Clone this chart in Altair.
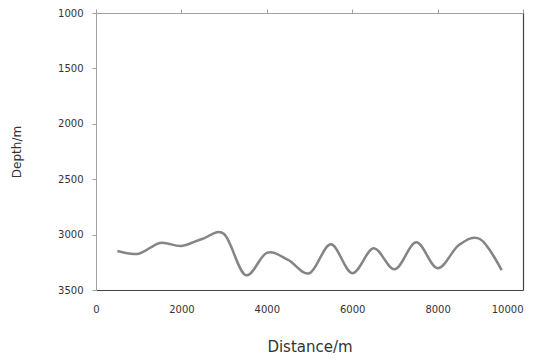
import altair as alt
import pandas as pd

distance = [500, 1000, 1500, 2000, 2500, 3000, 3500, 4000, 4500, 5000,
            5500, 6000, 6500, 7000, 7500, 8000, 8500, 9000, 9500]
depth = [3148, 3172, 3075, 3103, 3037, 2995, 3365, 3165, 3229, 3349,
         3088, 3349, 3124, 3313, 3070, 3304, 3094, 3042, 3320]

df = pd.DataFrame({"Distance": distance, "Depth": depth})

FONT = "DejaVu Sans"
xscale = alt.Scale(domain=[0, 10000], nice=False, zero=False)
yscale = alt.Scale(domain=[1000, 3500], reverse=True, nice=False, zero=False)
xvals = [0, 2000, 4000, 6000, 8000, 10000]
yvals = [1000, 1500, 2000, 2500, 3000, 3500]

line = alt.Chart(df).mark_line(
    interpolate="cardinal", color="#858585", strokeWidth=2.5
).encode(
    x=alt.X("Distance:Q", scale=xscale,
            axis=alt.Axis(title="Distance/m", orient="bottom", values=xvals, format="d",
                          ticks=False, labelPadding=14, titlePadding=25, labelFlush=False,
                          labelAlign={"expr": "datum.value == 10000 ? 'right' : 'center'"},
                          domainColor="#404040", domainWidth=1.2,
                          labelFont=FONT, labelFontSize=10, labelColor="#333",
                          titleFont=FONT, titleFontSize=15, titleFontWeight="normal", titleColor="#333",
                          grid=False)),
    y=alt.Y("Depth:Q", scale=yscale,
            axis=alt.Axis(title="Depth/m", orient="left", values=yvals, format="d",
                          tickSize=4, tickColor="#a0a0a0", domainColor="#a0a0a0",
                          labelPadding=9, titlePadding=34, labelFlush=False,
                          labelFont=FONT, labelFontSize=10, labelColor="#333",
                          titleFont=FONT, titleFontSize=12, titleFontWeight="normal", titleColor="#333",
                          grid=False)),
)

frame = alt.Chart(df).mark_line(opacity=0).encode(
    x=alt.X("Distance:Q", scale=xscale,
            axis=alt.Axis(title=None, orient="top", values=xvals,
                          labels=False, tickSize=4, tickColor="#a0a0a0",
                          domainColor="#a0a0a0", grid=False)),
    y=alt.Y("Depth:Q", scale=yscale,
            axis=alt.Axis(title=None, orient="right", labels=False, ticks=False,
                          domainColor="#404040", domainWidth=1.2, grid=False)),
)

chart = alt.layer(line, frame).resolve_axis(x="independent", y="independent").properties(
    width=427, height=277,
    autosize=alt.AutoSizeParams(type="none"),
    padding={"left": 88, "top": 5, "right": 9, "bottom": 70},
).configure_view(stroke=None)

chart.save("out.html", embed_options={"renderer": "svg", "actions": False})
